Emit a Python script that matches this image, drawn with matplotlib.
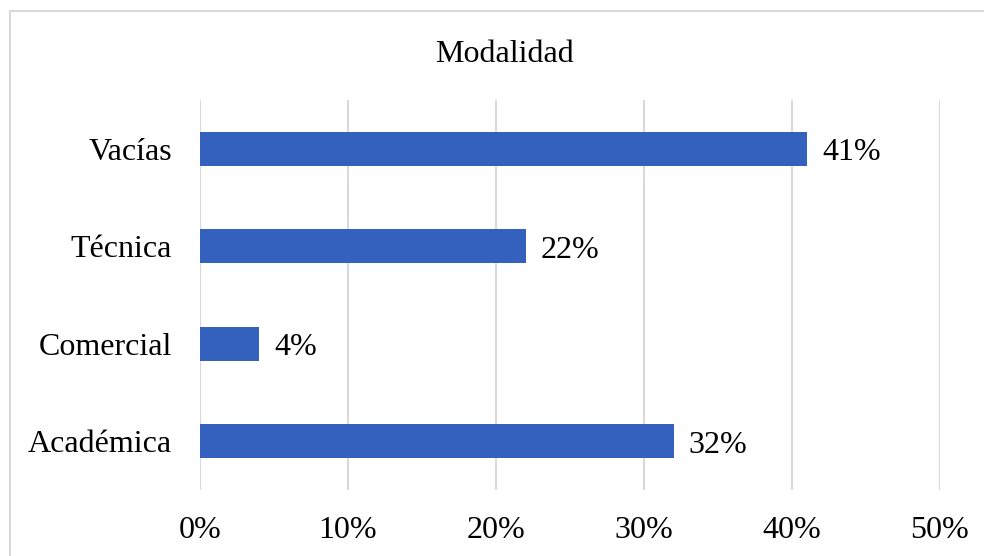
import matplotlib
matplotlib.use('Agg')
import matplotlib.pyplot as plt
from matplotlib.patches import Rectangle

plt.rcParams['font.family'] = ['Liberation Serif', 'DejaVu Serif']

# Data
categories = ['Académica', 'Comercial', 'Técnica', 'Vacías']
values = [32, 4, 22, 41]
xticks = [0, 10, 20, 30, 40, 50]
xtick_labels = ['0%', '10%', '20%', '30%', '40%', '50%']

bar_color = '#3361BD'
grid_color = '#D9D9D9'
fs = 23

fig = plt.figure(figsize=(9.84, 5.56), dpi=100)
ax = fig.add_axes([200 / 984, 1 - 490 / 556, 740 / 984, 390 / 556])

ypos = range(len(categories))
ax.barh(ypos, values, height=0.35, color=bar_color, zorder=3)

for y, v in zip(ypos, values):
    ax.annotate(f'{v}%', (v, y), xytext=(11, -3), textcoords='offset points',
                va='center', ha='left', fontsize=fs)

ax.set_xlim(0, 50)
ax.set_ylim(-0.5, len(categories) - 0.5)
ax.set_xticks(xticks)
ax.set_xticklabels(xtick_labels, fontsize=fs)
ax.set_yticks(list(ypos))
ax.set_yticklabels(categories, fontsize=fs)
ax.tick_params(axis='both', length=0)
ax.tick_params(axis='x', pad=19)
ax.tick_params(axis='y', pad=20)
ax.xaxis.grid(True, color=grid_color, linewidth=1.5, zorder=0)
ax.set_axisbelow(True)
for s in ax.spines.values():
    s.set_visible(False)

# Chart frame (cut off at right and bottom in the reference)
frame = Rectangle((10 / 984, -0.1), 1.2, 1 - 11 / 556 + 0.1, transform=fig.transFigure,
                  fill=False, edgecolor=grid_color, linewidth=1.5)
fig.patches.append(frame)

fig.text(504 / 984, 1 - 54 / 556, 'Modalidad', ha='center', va='center', fontsize=fs)

fig.savefig('out.png', dpi=100)
